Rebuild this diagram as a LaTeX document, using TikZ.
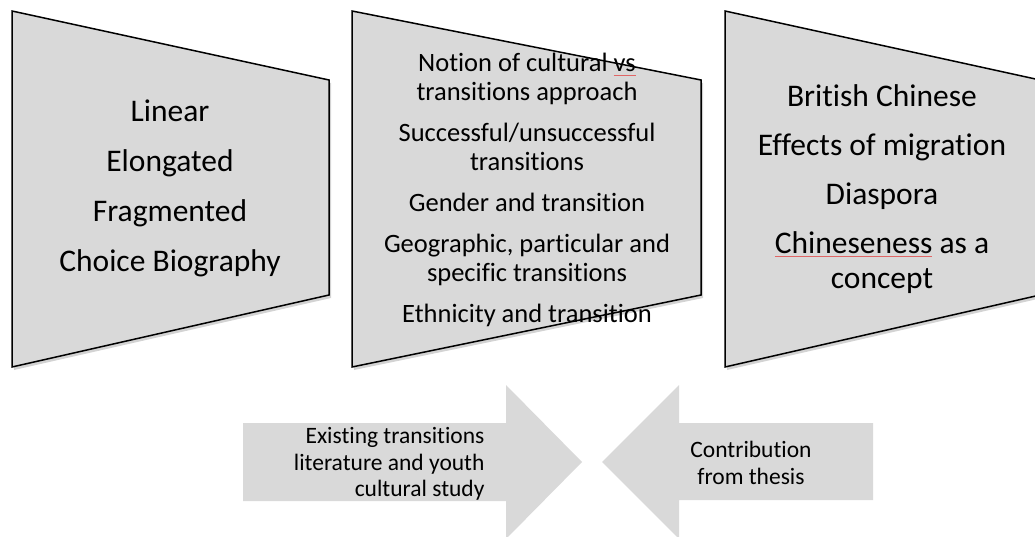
\documentclass[tikz,border=0pt]{standalone}
\usepackage{fontspec}
\setmainfont{Carlito}[Ligatures=NoCommon]
\usepackage{tikz}
\usetikzlibrary{shadows,positioning}
\definecolor{boxgray}{HTML}{D9D9D9}
\definecolor{spellred}{HTML}{E06666}
\newcommand{\misspelt}[1]{{\setbox0\hbox{#1}\rlap{\textcolor{spellred}{\rule[-4pt]{\wd0}{0.9pt}}}\box0}}

\begin{document}
\begin{tikzpicture}[x=1pt,y=-1pt,
	funnel/.style={draw=black,line width=1.5pt,fill=boxgray,line join=miter,
		drop shadow={shadow xshift=2pt,shadow yshift=-3pt,opacity=0.35}},
	bigarrow/.style={fill=boxgray,draw=none},
	bigtext/.style={align=center,font=\fontsize{31.5}{36}\selectfont},
	smalltext/.style={align=center,font=\fontsize{26.5}{29}\selectfont},
	arrowtext/.style={font=\fontsize{23.5}{26.5}\selectfont}]
	\useasboundingbox (0,0) rectangle (1035,537);
	\draw[funnel] (12,11) -- (329,80) -- (329,295) -- (12,367) -- cycle;
	\draw[funnel] (352,11) -- (701,80) -- (701,295) -- (352,367) -- cycle;
	\draw[funnel] (725,11) -- (1040,80) -- (1040,295) -- (725,367) -- cycle;
	\node[bigtext] (pathways) at (170,188) {Linear\\[14pt]Elongated\\[14pt]Fragmented\\[14pt]Choice Biography};
	\node[smalltext] (themes) at (527,190) {Notion of cultural \misspelt{vs}\\transitions approach\\[12pt]Successful/unsuccessful\\transitions\\[12pt]Gender and transition\\[12pt]Geographic, particular and\\specific transitions\\[12pt]Ethnicity and transition};
	\node[bigtext] (context) at (882,189) {British Chinese\\[13pt]Effects of migration\\[13pt]Diaspora\\[13pt]\misspelt{Chineseness} as a\\[-1pt]concept};
	\fill[bigarrow] (243,423) -- (506,423) -- (506,385) -- (582,462) -- (506,539) -- (506,501) -- (243,501) -- cycle;
	\fill[bigarrow] (873,423) -- (679,423) -- (679,385) -- (602,462) -- (679,539) -- (679,500) -- (873,500) -- cycle;
	\node[arrowtext,align=right,anchor=east] (existing) at (488,464) {Existing transitions\\literature and youth\\cultural study};
	\node[arrowtext,align=center] (contribution) at (751,463) {Contribution\\from thesis};
\end{tikzpicture}
\end{document}
